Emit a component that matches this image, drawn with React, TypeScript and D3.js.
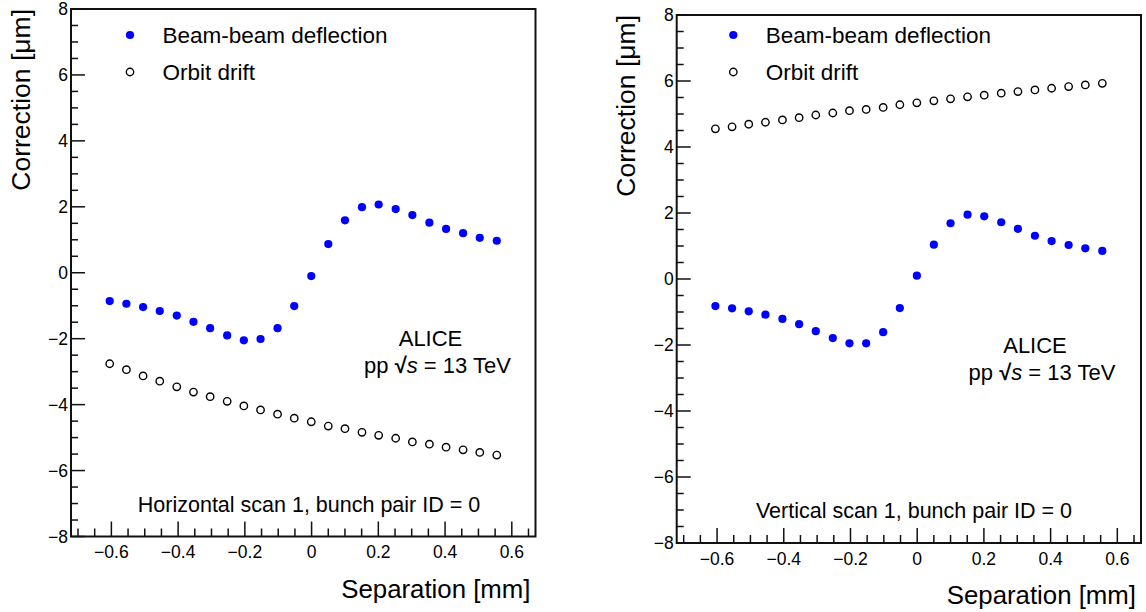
import * as d3 from 'd3';

// Separation values (mm), shared by both scans
const separation = [
  -0.605, -0.555, -0.505, -0.455, -0.404, -0.354, -0.304, -0.253, -0.203, -0.153, -0.102, -0.052,
  -0.001, 0.05, 0.1, 0.151, 0.201, 0.252, 0.302, 0.353, 0.403, 0.454, 0.504, 0.555,
];

// Horizontal scan 1
const hBeamBeam = [
  -0.86, -0.94, -1.04, -1.16, -1.3, -1.49, -1.68, -1.9, -2.05, -2.01, -1.68, -1.01,
  -0.1, 0.87, 1.59, 1.99, 2.07, 1.93, 1.75, 1.52, 1.33, 1.2, 1.06, 0.97,
];
const hOrbit = [
  -2.76, -2.94, -3.13, -3.29, -3.46, -3.62, -3.76, -3.9, -4.04, -4.16, -4.29, -4.41,
  -4.52, -4.65, -4.73, -4.84, -4.93, -5.02, -5.13, -5.2, -5.29, -5.37, -5.45, -5.53,
];

// Vertical scan 1
const vBeamBeam = [
  -0.82, -0.89, -0.98, -1.08, -1.21, -1.37, -1.58, -1.79, -1.95, -1.95, -1.61, -0.88,
  0.1, 1.04, 1.69, 1.95, 1.9, 1.72, 1.52, 1.31, 1.15, 1.03, 0.93, 0.85,
];
const vOrbit = [
  4.55, 4.61, 4.69, 4.75, 4.82, 4.89, 4.97, 5.03, 5.1, 5.14, 5.2, 5.28,
  5.34, 5.4, 5.46, 5.52, 5.57, 5.63, 5.68, 5.73, 5.78, 5.83, 5.88, 5.93,
];

const xTickValues = [-0.6, -0.4, -0.2, 0, 0.2, 0.4, 0.6];
const yTickValues = [-8, -6, -4, -2, 0, 2, 4, 6, 8];
const xDomain: [number, number] = [-0.721, 0.671];
const yDomain: [number, number] = [-8, 8];

const legendLabels = ['Beam-beam deflection', 'Orbit drift'];
const xTitle = 'Separation [mm]';
const yTitle = 'Correction [\u03bcm]';

const FONT = '"Liberation Sans", Arial, Helvetica, sans-serif';
const fmt = (v: number) => (v < 0 ? '\u2212' : '') + String(Math.abs(v));

type PanelProps = {
  left: number; right: number; top: number; bottom: number;
  beam: number[]; orbit: number[];
  scanLabel: string; scanX: number; scanY: number;
  aliceX: number; aliceY: number;
  legendX: number; titleX: number; titleY: number;
};

function Panel(p: PanelProps) {
  const x = d3.scaleLinear().domain(xDomain).range([p.left, p.right]);
  const y = d3.scaleLinear().domain(yDomain).range([p.bottom, p.top]);
  const xMinor = d3.range(-0.7, 0.68, 0.05).filter(v => v <= xDomain[1]);
  const yMinor = d3.range(-8, 8.01, 0.5);

  return (
    <g fontFamily={FONT} fill="#000">
      {/* frame */}
      <rect x={p.left} y={p.top} width={p.right - p.left} height={p.bottom - p.top}
        fill="none" stroke="#111" strokeWidth={2} />

      {/* x ticks */}
      {xMinor.map((v, i) => {
        const major = xTickValues.some(t => Math.abs(t - v) < 1e-6);
        return <line key={'xm' + i} x1={x(v)} x2={x(v)} y1={p.bottom} y2={p.bottom - (major ? 15 : 8)}
          stroke="#111" strokeWidth={1.5} />;
      })}
      {xTickValues.map(v => (
        <text key={'xl' + v} x={x(v)} y={p.bottom + 21.5} textAnchor="middle" fontSize={17.5}>{fmt(v)}</text>
      ))}

      {/* y ticks */}
      {yMinor.map((v, i) => {
        const major = yTickValues.includes(v);
        return <line key={'ym' + i} x1={p.left} x2={p.left + (major ? 14 : 7)} y1={y(v)} y2={y(v)}
          stroke="#111" strokeWidth={1.5} />;
      })}
      {yTickValues.map(v => (
        <text key={'yl' + v} x={p.left - 3} y={y(v) + 6} textAnchor="end" fontSize={17.5}>{fmt(v)}</text>
      ))}

      {/* axis titles */}
      <text x={p.right - 5} y={p.bottom + 61} textAnchor="end" fontSize={25.8}>{xTitle}</text>
      <text transform={`translate(${p.titleX},${p.titleY}) rotate(-90)`} textAnchor="end" fontSize={26.5}>{yTitle}</text>

      {/* data */}
      {separation.map((s, i) => (
        <circle key={'o' + i} cx={x(s)} cy={y(p.orbit[i])} r={3.7} fill="none" stroke="#000" strokeWidth={1.4} />
      ))}
      {separation.map((s, i) => (
        <circle key={'b' + i} cx={x(s)} cy={y(p.beam[i])} r={4.1} fill="#0000ff" />
      ))}

      {/* legend */}
      <circle cx={p.legendX} cy={35} r={4.1} fill="#0000ff" />
      <text x={p.legendX + 32.5} y={42.7} fontSize={22.5}>{legendLabels[0]}</text>
      <circle cx={p.legendX} cy={72} r={3.7} fill="none" stroke="#000" strokeWidth={1.4} />
      <text x={p.legendX + 32.5} y={80} fontSize={22.5}>{legendLabels[1]}</text>

      {/* annotations */}
      <text x={p.aliceX - 7} y={p.aliceY} textAnchor="middle" fontSize={22}>ALICE</text>
      <text x={p.aliceX} y={p.aliceY + 27} textAnchor="middle" fontSize={22}>
        pp <tspan fontWeight="bold">{'\u221a'}</tspan><tspan fontStyle="italic">s</tspan> = 13 TeV
      </text>
      <text x={p.scanX} y={p.scanY} textAnchor="middle" fontSize={21.5}>{p.scanLabel}</text>
    </g>
  );
}

export default function App() {
  return (
    <svg width={1146} height={612} style={{ position: 'absolute', left: 0, top: 0, background: '#fff' }}>
      <Panel left={71} right={535.5} top={9} bottom={536.5}
        beam={hBeamBeam} orbit={hOrbit}
        scanLabel="Horizontal scan 1, bunch pair ID = 0" scanX={309} scanY={511.7}
        aliceX={437.5} aliceY={346} legendX={130} titleX={30} titleY={9} />
      <Panel left={676.7} right={1141} top={15} bottom={543}
        beam={vBeamBeam} orbit={vOrbit}
        scanLabel="Vertical scan 1, bunch pair ID = 0" scanX={914} scanY={518.3}
        aliceX={1042} aliceY={352.7} legendX={733.3} titleX={635} titleY={15} />
    </svg>
  );
}
